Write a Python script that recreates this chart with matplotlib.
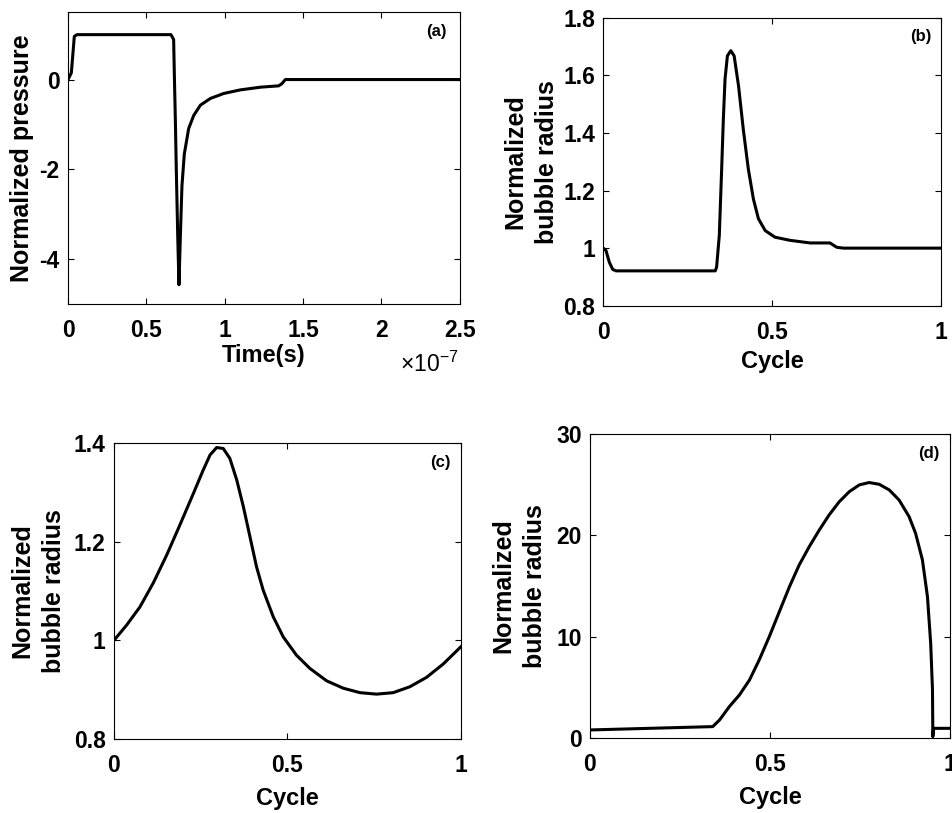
import matplotlib
matplotlib.use('Agg')
import matplotlib.pyplot as plt

plt.rcParams['font.family'] = ['Liberation Sans', 'DejaVu Sans']
plt.rcParams['font.weight'] = 'bold'
plt.rcParams['mathtext.default'] = 'regular'

# (a) normalized pressure vs time (x in units of 1e-7 s)
t_a = [0, 0.021, 0.040, 0.057, 0.657, 0.674, 0.678, 0.685, 0.691, 0.700,
       0.708, 0.717, 0.727, 0.742, 0.770, 0.802, 0.845, 0.909, 0.994, 1.10,
       1.228, 1.345, 1.366, 1.387, 2.5]
p_a = [0, 0.15, 0.96, 1.0, 1.0, 0.89, 0.19, -0.91, -2.01, -3.47,
       -4.57, -3.47, -2.37, -1.66, -1.09, -0.80, -0.57, -0.42, -0.31, -0.23,
       -0.17, -0.14, -0.087, 0, 0]

# (b) normalized bubble radius vs cycle
c_b = [0, 0.008, 0.018, 0.028, 0.038, 0.332, 0.336, 0.344, 0.351, 0.356,
       0.361, 0.368, 0.378, 0.388, 0.401, 0.415, 0.430, 0.445, 0.460, 0.480,
       0.509, 0.554, 0.613, 0.672, 0.692, 0.712, 1.0]
r_b = [1.0, 0.992, 0.951, 0.926, 0.921, 0.921, 0.934, 1.044, 1.275, 1.449,
       1.587, 1.668, 1.686, 1.668, 1.564, 1.414, 1.275, 1.171, 1.102, 1.061,
       1.038, 1.027, 1.018, 1.018, 1.003, 1.0, 1.0]

# (c)
c_c = [0, 0.0365, 0.075, 0.113, 0.152, 0.190, 0.229, 0.257, 0.277, 0.296,
       0.315, 0.334, 0.354, 0.373, 0.392, 0.411, 0.430, 0.459, 0.488, 0.526,
       0.565, 0.613, 0.661, 0.709, 0.757, 0.805, 0.853, 0.901, 0.949, 1.0]
r_c = [1.0, 1.031, 1.068, 1.116, 1.173, 1.234, 1.298, 1.345, 1.376, 1.391,
       1.389, 1.369, 1.325, 1.271, 1.210, 1.149, 1.102, 1.048, 1.007, 0.970,
       0.943, 0.918, 0.903, 0.894, 0.891, 0.894, 0.906, 0.925, 0.952, 0.987]

# (d)
c_d = [0, 0.341, 0.360, 0.387, 0.415, 0.443, 0.470, 0.498, 0.526, 0.554,
       0.581, 0.609, 0.637, 0.664, 0.692, 0.720, 0.748, 0.775, 0.803, 0.831,
       0.858, 0.886, 0.904, 0.923, 0.937, 0.946, 0.951, 0.952, 0.954, 1.0]
r_d = [0.79, 1.12, 1.78, 3.09, 4.24, 5.72, 7.70, 10.0, 12.47, 14.93,
       17.07, 18.88, 20.53, 22.0, 23.3, 24.3, 24.97, 25.2, 25.03, 24.47,
       23.49, 21.84, 20.2, 17.57, 13.95, 9.34, 4.74, 0.13, 0.95, 0.95]

fig = plt.figure(figsize=(9.53, 8.13), dpi=100)
ax_a = fig.add_axes([0.0714, 0.626, 0.411, 0.359])
ax_b = fig.add_axes([0.633, 0.624, 0.354, 0.354])
ax_c = fig.add_axes([0.1196, 0.091, 0.364, 0.364])
ax_d = fig.add_axes([0.619, 0.0923, 0.378, 0.374])

panels = [
    (ax_a, t_a, p_a, (0, 2.5), (-5, 1.5), [0, 0.5, 1, 1.5, 2, 2.5], [-4, -2, 0],
     'Time(s)', 'Normalized pressure', '(a)', -0.117, -0.175),
    (ax_b, c_b, r_b, (0, 1), (0.8, 1.8), [0, 0.5, 1], [0.8, 1, 1.2, 1.4, 1.6, 1.8],
     'Cycle', 'Normalized\nbubble radius', '(b)', -0.214, -0.194),
    (ax_c, c_c, r_c, (0, 1), (0.8, 1.4), [0, 0.5, 1], [0.8, 1, 1.2, 1.4],
     'Cycle', 'Normalized\nbubble radius', '(c)', -0.219, -0.2),
    (ax_d, c_d, r_d, (0, 1), (0, 30), [0, 0.5, 1], [0, 10, 20, 30],
     'Cycle', 'Normalized\nbubble radius', '(d)', -0.197, -0.197),
]

for ax, x, y, xl, yl, xt, yt, xlab, ylab, tag, ylx, xly in panels:
    ax.plot(x, y, color='black', lw=2.2, solid_joinstyle='round')
    ax.set_xlim(xl)
    ax.set_ylim(yl)
    ax.set_xticks(xt)
    ax.set_yticks(yt)
    ax.set_xticklabels([('%g' % v) for v in xt])
    ax.set_yticklabels([('%g' % v) for v in yt])
    ax.tick_params(direction='in', length=4, width=0.8, top=True, right=True,
                   labelsize=16.5)
    ax.tick_params(axis='x', pad=11)
    ax.tick_params(axis='y', pad=6)
    for s in ax.spines.values():
        s.set_linewidth(0.8)
    ax.set_xlabel(xlab, fontsize=17, fontweight='bold', va='center')
    ax.set_ylabel(ylab, fontsize=18, fontweight='bold', va='center',
                  linespacing=1.4)
    ax.xaxis.set_label_coords(0.5, xly)
    ax.yaxis.set_label_coords(ylx, 0.5)
    ax.text(0.94, 0.935, tag, transform=ax.transAxes, fontsize=12,
            fontweight='bold', ha='center', va='center')

ax_a.text(0.923, -0.205, '×10$^{-7}$', transform=ax_a.transAxes, fontsize=16.5,
          fontweight='normal', ha='center', va='center')

fig.savefig('out.png', dpi=100)
